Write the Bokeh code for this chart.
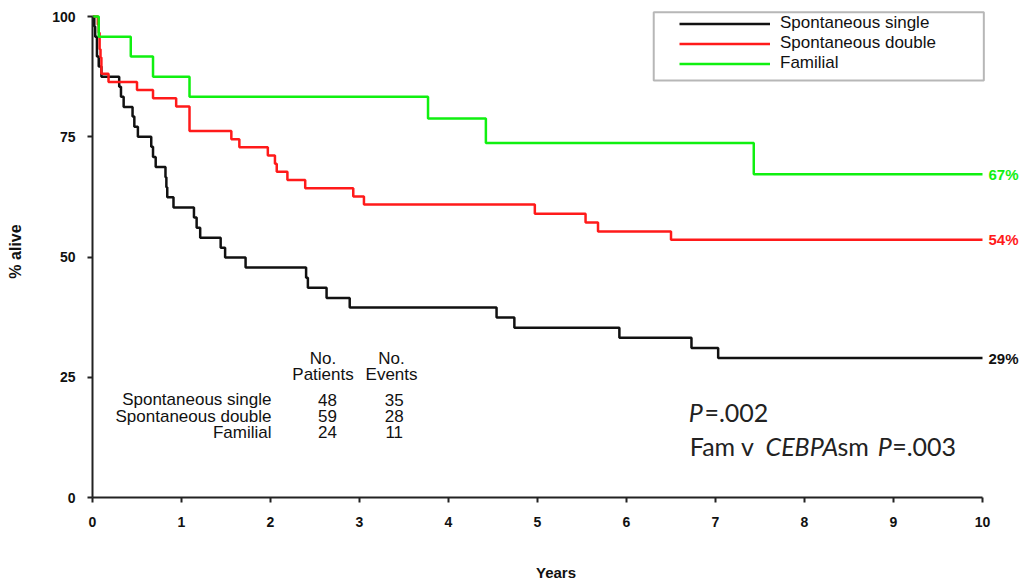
from bokeh.plotting import figure
from bokeh.models import Range1d, FixedTicker, Legend, LegendItem, BoxAnnotation, ColumnDataSource
from bokeh.core.properties import value
from bokeh.embed import file_html
from bokeh.resources import INLINE

# ---- data ----
groups = ["Spontaneous single", "Spontaneous double", "Familial"]
colors = ["#111111", "#ff1a1a", "#10f010"]

years_single = [0, 0.02, 0.03, 0.05, 0.07, 0.10, 0.30, 0.32, 0.35, 0.45, 0.47, 0.51, 0.66, 0.68,
                0.71, 0.82, 0.83, 0.84, 0.91, 1.14, 1.17, 1.21, 1.44, 1.49, 1.72, 2.40, 2.42,
                2.63, 2.89, 4.54, 4.74, 5.92, 6.73, 7.03, 10.0]
surv_single = [100, 97.9, 95.8, 91.7, 89.6, 87.5, 85.4, 83.3, 81.2, 79.2, 77.1, 75.0, 72.9, 70.8,
               68.7, 66.6, 64.5, 62.4, 60.3, 58.2, 56.1, 54.0, 51.9, 49.9, 47.8, 45.7, 43.6,
               41.5, 39.5, 37.4, 35.3, 33.2, 31.1, 29.0, 29.0]

years_double = [0, 0.06, 0.07, 0.08, 0.09, 0.10, 0.18, 0.50, 0.68, 0.94, 1.09, 1.56, 1.65, 1.97,
                2.05, 2.07, 2.19, 2.39, 2.93, 3.05, 4.97, 5.54, 5.68, 6.50, 10.0]
surv_double = [100, 98.3, 96.6, 93.2, 91.5, 88.1, 86.4, 84.7, 83.0, 81.3, 76.2, 74.5, 72.8, 71.1,
               69.4, 67.7, 66.0, 64.3, 62.6, 60.9, 59.0, 57.2, 55.3, 53.6, 53.6]

years_familial = [0, 0.07, 0.43, 0.68, 1.09, 3.77, 4.42, 7.43, 10.0]
surv_familial = [100, 95.8, 91.7, 87.5, 83.3, 78.8, 73.7, 67.2, 67.2]

n_patients = [48, 59, 24]
n_events = [35, 28, 11]

x_ticks = [0, 1, 2, 3, 4, 5, 6, 7, 8, 9, 10]
y_ticks = [0, 25, 50, 75, 100]

# ---- figure ----
FONT = "Liberation Sans"
p = figure(width=1019, height=585, output_backend="svg", toolbar_location=None,
           x_range=Range1d(0, 10.4157), y_range=Range1d(0, 102.29),
           min_border_left=92, min_border_right=0, min_border_top=5, min_border_bottom=88)
p.outline_line_color = None
p.grid.visible = False
p.background_fill_color = "white"
p.border_fill_color = "white"

for ax in (p.xaxis[0], p.yaxis[0]):
    ax.axis_line_width = 2
    ax.axis_line_color = "#222222"
    ax.major_tick_line_color = "#222222"
    ax.major_tick_line_width = 2
    ax.major_tick_in = 0
    ax.major_tick_out = 5
    ax.minor_tick_line_color = None
    ax.major_label_text_font = FONT
    ax.major_label_text_font_style = "bold"
    ax.major_label_text_font_size = "14px"
    ax.major_label_text_color = "#111111"
    ax.axis_label_text_font = FONT
    ax.axis_label_text_font_style = "bold"
    ax.axis_label_text_color = "#111111"

p.xaxis.ticker = FixedTicker(ticks=x_ticks)
p.xaxis.bounds = (0, 10)
p.xaxis.axis_label = "Years"
p.xaxis.axis_label_text_font_size = "15px"
p.xaxis.major_label_standoff = 14
p.xaxis.axis_label_standoff = 34

p.yaxis.ticker = FixedTicker(ticks=y_ticks)
p.yaxis.bounds = (0, 100)
p.yaxis.axis_label = "% alive"
p.yaxis.axis_label_text_font_size = "16px"
p.yaxis.major_label_standoff = 12
p.yaxis.axis_label_standoff = 25

series = [(years_single, surv_single), (years_double, surv_double), (years_familial, surv_familial)]
renderers = []
for (xs, ys), c in zip(series, colors):
    r = p.step(x=xs, y=ys, mode="after", line_color=c, line_width=2.5)
    renderers.append(r)

# end-of-curve percentage labels
end_src = ColumnDataSource(dict(
    x=[s[0][-1] for s in series],
    y=[s[1][-1] for s in series],
    t=["%d%%" % round(s[1][-1]) for s in series],
    c=colors))
p.text(x="x", y="y", text="t", text_color="c", source=end_src, x_offset=6,
       text_font=value(FONT), text_font_style="bold", text_font_size="15px",
       text_align="left", text_baseline="middle")

# legend
legend = Legend(items=[LegendItem(label=g, renderers=[r]) for g, r in zip(groups, renderers)],
                location=(587, 424), padding=0, spacing=0, margin=0,
                glyph_width=91, glyph_height=17, label_height=17, label_standoff=10,
                label_text_font=FONT, label_text_font_size="17px", label_text_color="#111111",
                border_line_color=None, background_fill_alpha=0)
p.add_layout(legend)
p.add_layout(BoxAnnotation(left=6.306, right=10.015, top=100.89, bottom=86.69,
                           fill_color=None, line_color="#111111", line_width=2))

# table of numbers
row_y = [20.3, 16.9, 13.6]
tab = ColumnDataSource(dict(g=groups, n=[str(v) for v in n_patients],
                            e=[str(v) for v in n_events], y=row_y))
common = dict(text_font=value(FONT), text_font_size="17px", text_color="#111111",
              text_baseline="middle")
p.text(x=2.011, y="y", text="g", source=tab, text_align="right", **common)
p.text(x=2.64, y="y", text="n", source=tab, text_align="center", **common)
p.text(x=3.39, y="y", text="e", source=tab, text_align="center", **common)
p.text(x=[2.59, 3.36], y=[28.8, 28.8], text=["No.", "No."], text_align="center", **common)
p.text(x=[2.59, 3.36], y=[25.6, 25.6], text=["Patients", "Events"], text_align="center", **common)

# p-values
pfont = dict(text_font=value("Lato"), text_font_size="25px", text_color="#222222",
             text_baseline="alphabetic", text_align="left")
p.text(x=[6.700], y=[17.73], text=["P"], text_font_style="italic", **pfont)
p.text(x=[6.875], y=[17.73], text=["=.002"], **pfont)
p.text(x=[6.711], y=[10.81], text=["Fam v"], **pfont)
p.text(x=[7.562], y=[10.81], text=["CEBPA"], text_font_style="italic", **pfont)
p.text(x=[8.371], y=[10.81], text=["sm"], **pfont)
p.text(x=[8.823], y=[10.81], text=["P"], text_font_style="italic", **pfont)
p.text(x=[8.985], y=[10.81], text=["=.003"], **pfont)

open("out.html", "w").write(file_html(p, INLINE))
